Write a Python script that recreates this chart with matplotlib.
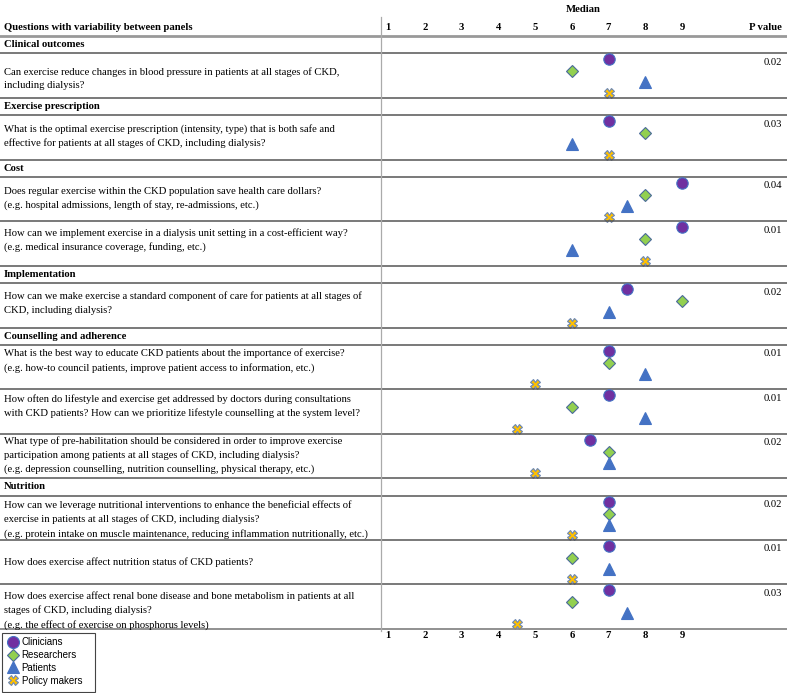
import matplotlib.pyplot as plt
from matplotlib.lines import Line2D
from matplotlib.patches import Rectangle

# categories and the questions under each one
categories = ["Clinical outcomes", "Exercise prescription", "Cost", "Implementation",
              "Counselling and adherence", "Nutrition"]
questions_per_category = [1, 1, 2, 1, 3, 3]

questions = [
    "Can exercise reduce changes in blood pressure in patients at all stages of CKD,\nincluding dialysis?",
    "What is the optimal exercise prescription (intensity, type) that is both safe and\neffective for patients at all stages of CKD, including dialysis?",
    "Does regular exercise within the CKD population save health care dollars?\n(e.g. hospital admissions, length of stay, re-admissions, etc.)",
    "How can we implement exercise in a dialysis unit setting in a cost-efficient way?\n(e.g. medical insurance coverage, funding, etc.)",
    "How can we make exercise a standard component of care for patients at all stages of\nCKD, including dialysis?",
    "What is the best way to educate CKD patients about the importance of exercise?\n(e.g. how-to council patients, improve patient access to information, etc.)",
    "How often do lifestyle and exercise get addressed by doctors during consultations\nwith CKD patients? How can we prioritize lifestyle counselling at the system level?",
    "What type of pre-habilitation should be considered in order to improve exercise\nparticipation among patients at all stages of CKD, including dialysis?\n(e.g. depression counselling, nutrition counselling, physical therapy, etc.)",
    "How can we leverage nutritional interventions to enhance the beneficial effects of\nexercise in patients at all stages of CKD, including dialysis?\n(e.g. protein intake on muscle maintenance, reducing inflammation nutritionally, etc.)",
    "How does exercise affect nutrition status of CKD patients?",
    "How does exercise affect renal bone disease and bone metabolism in patients at all\nstages of CKD, including dialysis?\n(e.g. the effect of exercise on phosphorus levels)",
]

# median ratings per panel
clinicians = [7, 7, 9, 9, 7.5, 7, 7, 6.5, 7, 7, 7]
researchers = [6, 8, 8, 8, 9, 7, 6, 7, 7, 6, 6]
patients = [8, 6, 7.5, 6, 7, 8, 8, 7, 7, 7, 7.5]
policy_makers = [7, 7, 7, 8, 6, 5, 4.5, 5, 6, 6, 4.5]
p_values = ["0.02", "0.03", "0.04", "0.01", "0.02", "0.01", "0.01", "0.02", "0.02", "0.01", "0.03"]
ticks = [1, 2, 3, 4, 5, 6, 7, 8, 9]
labels = ["Clinicians", "Researchers", "Patients", "Policy makers"]

# layout (pixels from the top of the figure)
W, H = 787, 693
x_one, unit = 388, 36.75
head_h, cat_h, q_h = 36, 17.4, 44.4
first_line = [17, 12, 13, 10, 12, 7, 8, 6, 8, 21, 10]   # centre of first text line

serif = "Liberation Serif"
fs = 7.7

fig = plt.figure(figsize=(W / 100, H / 100), dpi=100)
ax = fig.add_axes([0, 0, 1, 1])
ax.set_xlim(1 - x_one / unit, 1 + (W - x_one) / unit)
ax.set_ylim(H, 0)
ax.axis("off")


def px(x):
    return 1 + (x - x_one) / unit


styles = [
    (clinicians, "o", "#7030A0", "#4472C4", 8.2, 6),
    (researchers, "D", "#92D050", "#4A6A9A", 6.3, 18),
    (patients, "^", "#4472C4", "#4472C4", 8.2, 29),
    (policy_makers, "X", "#FFC000", "#6A88B8", 6.6, 39.5),
]

# header
ax.text(px((380 + W) / 2), 9, "Median", ha="center", va="center", fontsize=fs,
        fontweight="bold", family=serif)
ax.text(px(4), 28, "Questions with variability between panels", ha="left", va="center",
        fontsize=fs, fontweight="bold", family=serif)
for t in ticks:
    ax.text(t, 28, str(t), ha="center", va="center", fontsize=fs, fontweight="bold", family=serif)
    ax.text(t, 636, str(t), ha="center", va="center", fontsize=fs, fontweight="bold", family=serif)
ax.text(px(782), 28, "P value", ha="right", va="center", fontsize=fs, fontweight="bold", family=serif)

xl = ax.get_xlim()
ax.plot(xl, [head_h, head_h], color="#999999", lw=2)

y = head_h
qi = 0
for cat, n in zip(categories, questions_per_category):
    ax.text(px(4), y + cat_h / 2, cat, ha="left", va="center", fontsize=fs,
            fontweight="bold", family=serif)
    y += cat_h
    ax.plot(xl, [y, y], color="#555555", lw=1.1)
    for k in range(n):
        ax.text(px(4), y + first_line[qi] - 3.5, questions[qi], ha="left", va="top", fontsize=fs,
                family=serif, linespacing=1.6)
        ax.text(px(782), y + 9, p_values[qi], ha="right", va="center", fontsize=fs, family=serif)
        for vals, m, fc, ec, ms, off in styles:
            ax.plot(vals[qi], y + off, marker=m, ms=ms, mfc=fc, mec=ec, mew=0.8, ls="none")
        y += q_h
        lc = "#888888" if cat == "Nutrition" and k == n - 1 else "#555555"
        ax.plot(xl, [y, y], color=lc, lw=1.3 if lc == "#888888" else 1.1)
        qi += 1

ax.plot([px(380.5), px(380.5)], [17, y + 2], color="#AAAAAA", lw=0.9)

# legend
handles = [Line2D([], [], marker=m, ms=ms * 1.05, mfc=fc, mec=ec, mew=0.8, ls="none")
           for vals, m, fc, ec, ms, off in styles]
fig.legend(handles, labels, loc="upper left", bbox_to_anchor=(8.5 / W, 1 - 637 / H),
           prop={"family": "Liberation Sans", "size": 7.0}, frameon=False,
           handlelength=0.9, handletextpad=0.45, labelspacing=0.3,
           borderpad=0, borderaxespad=0)
fig.patches.append(Rectangle((2 / W, 1 - 692 / H), 93 / W, 59 / H, transform=fig.transFigure,
                             fill=False, edgecolor="#444444", lw=0.8))

fig.savefig("out.png", dpi=100)
